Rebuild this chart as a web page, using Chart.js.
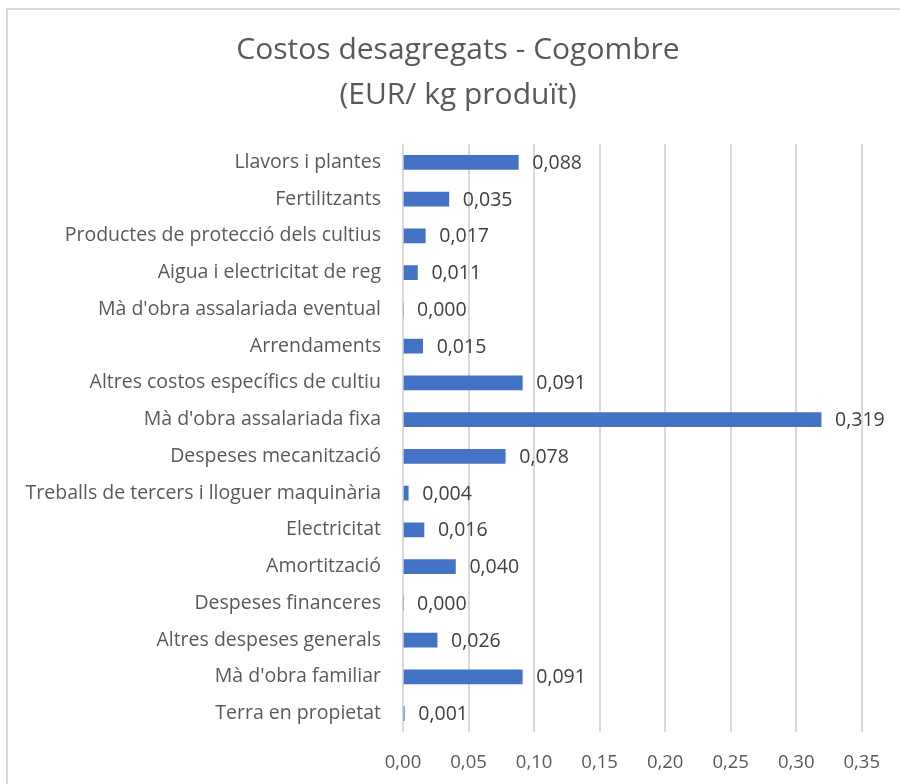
<!DOCTYPE html>
<html>
<head>
<meta charset="utf-8">
<title>Costos desagregats - Cogombre</title>
<script src="https://cdn.jsdelivr.net/npm/chart.js@4.4.1/dist/chart.umd.min.js"></script>
<style>
    html, body { margin: 0; padding: 0; background: #ffffff; overflow: hidden; }
    #wrap { position: relative; width: 900px; height: 784px; }
    #frame {
        position: absolute; left: 6px; top: 8px; width: 900px; height: 800px;
        border-left: 2px solid #d9d9d9; border-top: 2px solid #d9d9d9;
    }
    canvas { position: absolute; left: 0; top: 0; }
</style>
</head>
<body>
<div id="wrap">
    <div id="frame"></div>
    <canvas id="chart" width="900" height="784"></canvas>
</div>
<script>
var FONT = '"Open Sans", Carlito, Lato, sans-serif';

var titleLines = ['Costos desagregats - Cogombre', '(EUR/ kg produït)'];

var categories = [
    'Llavors i plantes',
    'Fertilitzants',
    'Productes de protecció dels cultius',
    'Aigua i electricitat de reg',
    "Mà d'obra assalariada eventual",
    'Arrendaments',
    'Altres costos específics de cultiu',
    "Mà d'obra assalariada fixa",
    'Despeses mecanització',
    'Treballs de tercers i lloguer maquinària',
    'Electricitat',
    'Amortització',
    'Despeses financeres',
    'Altres despeses generals',
    "Mà d'obra familiar",
    'Terra en propietat'
];

var costs = [0.088, 0.035, 0.017, 0.011, 0.000, 0.015, 0.091, 0.319,
             0.078, 0.004, 0.016, 0.040, 0.000, 0.026, 0.091, 0.001];

var axisMin = 0;
var axisMax = 0.35;
var axisStep = 0.05;

function comma(n, digits) {
    return n.toFixed(digits).replace('.', ',');
}

// title is centred on the chart frame, not on the plot, so draw it by hand
var frameTitle = {
    id: 'frameTitle',
    afterDraw: function (chart) {
        var ctx = chart.ctx;
        ctx.save();
        ctx.font = '30px ' + FONT;
        ctx.fillStyle = '#595959';
        ctx.textAlign = 'center';
        ctx.textBaseline = 'middle';
        titleLines.forEach(function (line, i) {
            ctx.fillText(line, 458, 50 + i * 45);
        });
        ctx.restore();
    }
};

// draws the value next to each bar, like Excel's data labels
var valueLabels = {
    id: 'valueLabels',
    afterDatasetsDraw: function (chart) {
        var ctx = chart.ctx;
        var meta = chart.getDatasetMeta(0);
        ctx.save();
        ctx.font = '19.5px ' + FONT;
        ctx.fillStyle = '#404040';
        ctx.textAlign = 'left';
        ctx.textBaseline = 'middle';
        meta.data.forEach(function (bar, i) {
            ctx.fillText(comma(costs[i], 3), bar.x + 14, bar.y + 1);
        });
        ctx.restore();
    }
};

new Chart(document.getElementById('chart'), {
    type: 'bar',
    data: {
        labels: categories,
        datasets: [{
            data: costs,
            backgroundColor: '#4472c4',
            borderWidth: 0,
            barThickness: 14
        }]
    },
    options: {
        indexAxis: 'y',
        responsive: false,
        animation: false,
        layout: { padding: { top: 144, right: 38, bottom: 0, left: 0 } },
        plugins: {
            legend: { display: false },
            tooltip: { enabled: false },
            title: { display: false }
        },
        scales: {
            x: {
                min: axisMin,
                max: axisMax,
                grid: { color: '#d9d9d9', lineWidth: 2, drawTicks: false },
                border: { display: false },
                ticks: {
                    stepSize: axisStep,
                    padding: 20,
                    color: '#595959',
                    font: { family: FONT, size: 18.5 },
                    callback: function (v) { return comma(v, 2); }
                },
                afterFit: function (scale) { scale.height = 52; }
            },
            y: {
                grid: { display: false, drawTicks: false },
                border: { display: false },
                ticks: {
                    padding: 22,
                    color: '#595959',
                    font: { family: FONT, size: 19.5 }
                },
                afterFit: function (scale) {
                    scale.width = 403;
                    scale.paddingTop = 0;
                    scale.paddingBottom = 0;
                }
            }
        }
    },
    plugins: [valueLabels, frameTitle]
});
</script>
</body>
</html>
